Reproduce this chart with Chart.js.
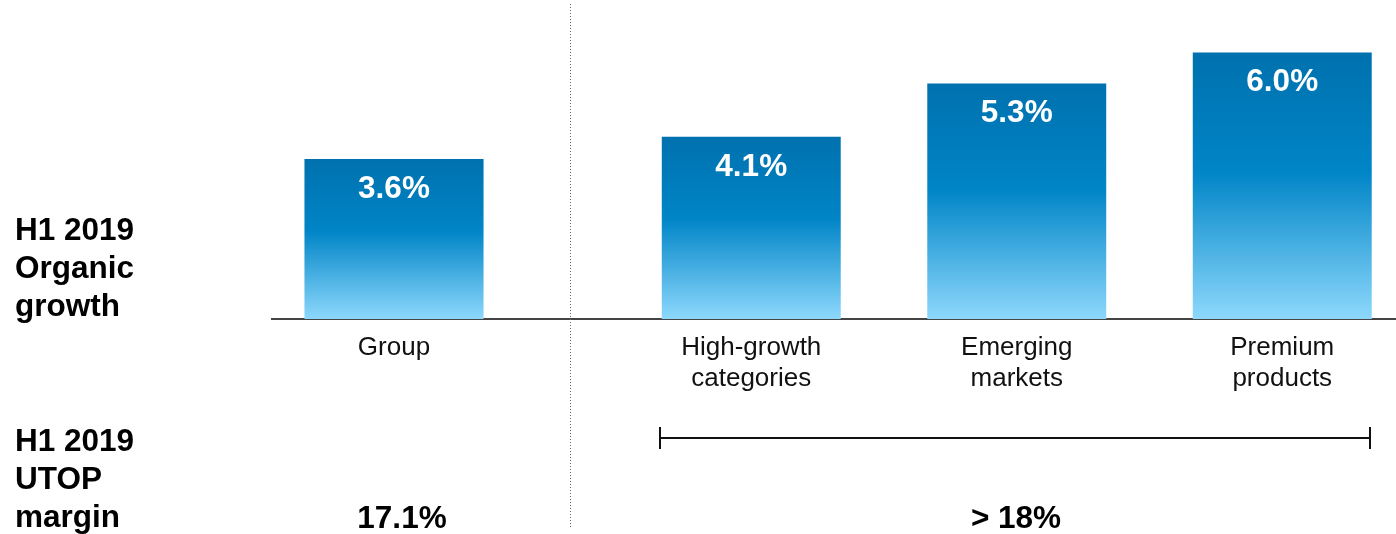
<!DOCTYPE html>
<html>
<head>
<meta charset="utf-8">
<script src="https://cdn.jsdelivr.net/npm/chart.js@4/dist/chart.umd.min.js"></script>
<style>
  body { margin: 0; background: #fff; }
  #wrap { position: relative; width: 1396px; height: 534px; overflow: hidden; font-family: "Liberation Sans", Arial, sans-serif; }
  canvas { position: absolute; left: 0; top: 0; }
  .rowlabel { position: absolute; left: 15px; font-weight: bold; font-size: 31.5px; line-height: 38px; color: #000; }
  .margin { position: absolute; font-weight: bold; font-size: 31.5px; color: #000; transform: translate(-50%, -50%); white-space: nowrap; }
  #divider { position: absolute; left: 570px; top: 4px; width: 1px; height: 524px;
    background: repeating-linear-gradient(to bottom, #666 0 1px, transparent 1px 3px); }
  #bracket { position: absolute; left: 660px; top: 437px; width: 710px; height: 2px; background: #111; }
  .tick { position: absolute; top: 427px; width: 2px; height: 22px; background: #111; }
</style>
</head>
<body>
<div id="wrap">
  <canvas id="segmentChart" width="1420" height="534"></canvas>
  <canvas id="groupChart" width="1396" height="534"></canvas>
  <div id="divider"></div>
  <div class="rowlabel" style="top:210px">H1 2019<br>Organic<br>growth</div>
  <div class="rowlabel" style="top:421px">H1 2019<br>UTOP<br>margin</div>
  <div id="bracket"></div>
  <div class="tick" style="left:659px"></div>
  <div class="tick" style="left:1369px"></div>
  <div class="margin" id="marginGroup" style="left:402px; top:517px"></div>
  <div class="margin" id="marginSegments" style="left:1016px; top:517px"></div>
</div>
<script>
// organic growth, %
const groupLabels = ["Group"];
const groupValues = [3.6];
const segmentLabels = [["High-growth", "categories"], ["Emerging", "markets"], ["Premium", "products"]];
const segmentValues = [4.1, 5.3, 6.0];
// UTOP margin
const marginGroup = "17.1%";
const marginSegments = "> 18%";

document.getElementById("marginGroup").textContent = marginGroup;
document.getElementById("marginSegments").textContent = marginSegments;

const barGradient = (ctx) => {
  const chart = ctx.chart;
  const y = chart.scales && chart.scales.y;
  if (!chart.chartArea || !y || ctx.parsed == null || ctx.parsed.y == null) return "#0084c6";
  const top = y.getPixelForValue(ctx.parsed.y);
  const bottom = y.getPixelForValue(0);
  const g = chart.ctx.createLinearGradient(0, top, 0, bottom);
  g.addColorStop(0, "#0071ae");
  g.addColorStop(0.45, "#0085c7");
  g.addColorStop(1, "#8dd8fc");
  return g;
};

const valueLabels = {
  id: "valueLabels",
  afterDatasetsDraw(chart) {
    const ctx = chart.ctx;
    const meta = chart.getDatasetMeta(0);
    ctx.save();
    ctx.fillStyle = "#fff";
    ctx.font = "bold 31.5px 'Liberation Sans', Arial, sans-serif";
    ctx.textAlign = "center";
    ctx.textBaseline = "middle";
    meta.data.forEach((bar, i) => {
      const v = chart.data.datasets[0].data[i];
      if (v == null) return;
      ctx.fillText(v.toFixed(1) + "%", bar.x, bar.y + 30);
    });
    ctx.restore();
  },
};

const makeOptions = (padLeft, padRight) => ({
  responsive: false,
  animation: false,
  layout: { padding: { left: padLeft, right: padRight, top: 8, bottom: 0 } },
  plugins: { legend: { display: false }, tooltip: { enabled: false } },
  scales: {
    x: {
      grid: { display: false, drawTicks: false },
      border: { display: true, color: "#444", width: 2 },
      ticks: {
        color: "#111",
        padding: 13,
        font: { family: "'Liberation Sans', Arial, sans-serif", size: 26, lineHeight: 1.2 },
      },
      afterFit: (scale) => { scale.height = 215; },
    },
    y: { display: false, min: 0, max: 7 },
  },
});

new Chart(document.getElementById("groupChart").getContext("2d"), {
  type: "bar",
  data: {
    labels: groupLabels,
    datasets: [{
      data: groupValues,
      backgroundColor: barGradient,
      barPercentage: 1,
      categoryPercentage: 0.734,
    }],
  },
  options: makeOptions(272, 880),
  plugins: [valueLabels],
});

// first slot left empty so the three segments keep their own spacing
new Chart(document.getElementById("segmentChart").getContext("2d"), {
  type: "bar",
  data: {
    labels: [""].concat(segmentLabels),
    datasets: [{
      data: [null].concat(segmentValues),
      backgroundColor: barGradient,
      barPercentage: 1,
      categoryPercentage: 0.674,
    }],
  },
  options: makeOptions(353, 5),
  plugins: [valueLabels],
});
</script>
</body>
</html>
